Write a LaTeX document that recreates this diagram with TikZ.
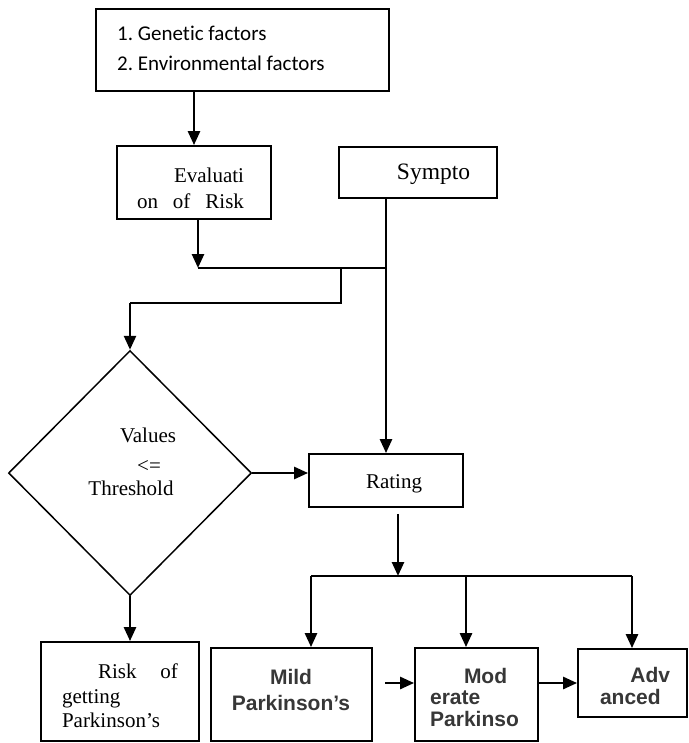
\documentclass[tikz,border=0pt]{standalone}
\usepackage{fontspec}
\setmainfont{Liberation Serif}
\newfontfamily\calibrifont[Ligatures=NoCommon]{Carlito}
\newfontfamily\arialfont{Liberation Sans}
\usetikzlibrary{arrows.meta,shapes.geometric}
\definecolor{boldgray}{RGB}{55,55,55}

\begin{document}
\begin{tikzpicture}[x=1pt,y=-1pt]
      \tikzstyle{box} = [draw, rectangle, line width=1.8pt, inner sep=0pt]
      \tikzstyle{flowarrow} = [line width=2.6pt, -{Triangle[length=14pt,width=12pt]}]
      \tikzstyle{joinline} = [line width=1.6pt]
      \tikzstyle{serifText} = [font=\fontsize{21}{26}\selectfont, inner sep=0pt, align=center]
      \tikzstyle{calibriText} = [font=\calibrifont\fontsize{21}{30}\selectfont, inner sep=0pt, align=left]
      \tikzstyle{arialText} = [font=\arialfont\fontsize{21}{26}\selectfont\bfseries, text=boldgray, inner sep=0pt, align=center]
      \useasboundingbox (0,0) rectangle (688,743);

      \node[box, minimum width=293pt, minimum height=82pt](factors) at (242.5,50){};
      \node[calibriText, anchor=west](factorsTxt) at (117,48){1.\ Genetic factors\\2.\ Environmental factors};

      \node[box, minimum width=154pt, minimum height=73pt](evalrisk) at (194,182.5){};
      \node[serifText](evalTxt) at (190.5,188){\makebox[107pt][r]{Evaluati}\\\makebox[107pt][s]{on of Risk}};

      \node[box, minimum width=158pt, minimum height=51pt](sympto) at (418,172.5){};
      \node[serifText, font=\fontsize{23.5}{28}\selectfont](symptoTxt) at (433.5,174){Sympto};

      \node[diamond, draw, line width=1.5pt, minimum width=243pt, minimum height=245pt, inner sep=0pt](decision) at (130,473){};
      \node[serifText](valuesTxt) at (148,435){Values};
      \node[serifText](leTxt) at (149,466){<=};
      \node[serifText](thresholdTxt) at (131,488){Threshold};

      \node[box, minimum width=154pt, minimum height=53pt](rating) at (386,480.5){};
      \node[serifText](ratingTxt) at (394,484){Rating};

      \node[box, minimum width=158pt, minimum height=99pt](riskbox) at (120,691.5){};
      \node[serifText, align=left, font=\fontsize{21}{24.5}\selectfont](riskTxt) at (120,696){\makebox[116pt]{\hspace*{36pt}Risk\hfill of}\\getting\\Parkinson’s};

      \node[box, minimum width=161pt, minimum height=93pt](mild) at (291.5,694.5){};
      \node[arialText](mildTxt) at (291,690){Mild\\Parkinson’s};

      \node[box, minimum width=123pt, minimum height=93pt](moderate) at (476.5,694.5){};
      \node[arialText, align=left, font=\arialfont\fontsize{21}{21.5}\selectfont\bfseries](moderateTxt) at (474.5,697){\makebox[77pt][r]{Mod}\\erate\\Parkinso};

      \node[box, minimum width=109pt, minimum height=68pt](advanced) at (632.5,683){};
      \node[arialText, align=left, font=\arialfont\fontsize{21}{22}\selectfont\bfseries](advancedTxt) at (635,686){\makebox[70pt][r]{Adv}\\anced};

      \coordinate(riskJoin) at (198,268);
      \coordinate(branchTop) at (341,268);
      \coordinate(branchBottom) at (341,303);
      \coordinate(ratingSplit) at (398,576);
      \coordinate(mildDrop) at (311,576);
      \coordinate(moderateDrop) at (466,576);
      \coordinate(advancedDrop) at (632,576);
      \coordinate(mildOut) at (385,683);

      \draw[flowarrow] (factors.south -| evalrisk.north) -- (evalrisk.north);
      \draw[flowarrow] (riskJoin |- evalrisk.south) -- (riskJoin);
      \draw[flowarrow] (rating.north |- sympto.south) -- (rating.north);
      \draw[joinline] (riskJoin) -- (riskJoin -| rating.north);
      \draw[joinline] (branchTop) -- (branchBottom) -- (branchBottom -| decision.north);
      \draw[flowarrow] (branchBottom -| decision.north) -- (decision.north);

      \draw[flowarrow] (decision.east) -- (decision.east -| rating.west);
      \draw[flowarrow] (decision.south) -- (decision.south |- riskbox.north);

      \draw[flowarrow, shorten <=6pt] (ratingSplit |- rating.south) -- (ratingSplit);
      \draw[joinline] (mildDrop) -- (advancedDrop);
      \draw[flowarrow] (mildDrop) -- (mildDrop |- mild.north);
      \draw[flowarrow] (moderateDrop) -- (moderateDrop |- moderate.north);
      \draw[flowarrow] (advancedDrop) -- (advancedDrop |- advanced.north);

      \draw[flowarrow] (mildOut) -- (mildOut -| moderate.west);
      \draw[flowarrow] (advanced.west -| moderate.east) -- (advanced.west);
\end{tikzpicture}
\end{document}
